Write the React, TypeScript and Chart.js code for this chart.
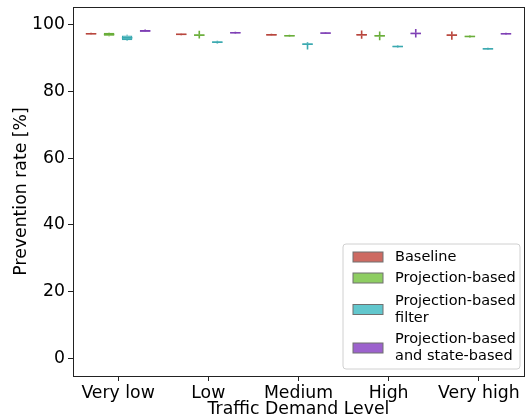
import React, { useEffect, useRef } from 'react';
import { Chart, registerables } from 'chart.js';

Chart.register(...registerables);

const categories = ['Very low', 'Low', 'Medium', 'High', 'Very high'];
const seriesLabels: (string | string[])[] = [
  'Baseline',
  'Projection-based',
  ['Projection-based', 'filter'],
  ['Projection-based', 'and state-based'],
];
// each entry: [min, q1, median, q3, max]
const baseline = [
  [96.9, 96.95, 97.1, 97.3, 97.4],
  [96.7, 96.8, 96.95, 97.1, 97.2],
  [96.5, 96.6, 96.8, 96.95, 97.1],
  [95.6, 96.6, 96.8, 97.0, 98.1],
  [95.3, 96.5, 96.7, 96.9, 97.8],
];
const projection = [
  [96.4, 96.5, 96.9, 97.4, 97.5],
  [95.7, 96.5, 96.7, 96.9, 98.0],
  [96.2, 96.35, 96.5, 96.65, 96.8],
  [95.2, 96.3, 96.5, 96.7, 97.8],
  [96.0, 96.15, 96.3, 96.45, 96.6],
];
const projectionFilter = [
  [95.0, 95.2, 95.9, 96.6, 96.8],
  [94.2, 94.4, 94.6, 94.8, 95.0],
  [92.4, 93.8, 94.0, 94.2, 94.6],
  [93.0, 93.15, 93.3, 93.45, 93.6],
  [92.3, 92.45, 92.6, 92.75, 92.9],
];
const projectionState = [
  [97.6, 97.7, 97.95, 98.2, 98.4],
  [97.1, 97.25, 97.4, 97.55, 97.7],
  [97.0, 97.15, 97.3, 97.45, 97.6],
  [96.0, 97.0, 97.2, 97.4, 98.5],
  [96.8, 96.95, 97.1, 97.25, 97.4],
];
const yTicks = [0, 20, 40, 60, 80, 100];

const allSeries = [baseline, projection, projectionFilter, projectionState];
const fillColors = ['#cd6a62', '#8ecd62', '#62c7cd', '#9c62cd'];
const lineColors = ['#b8463d', '#6aae3a', '#3aa9b0', '#7f40b5'];
const FONT = '"DejaVu Sans", sans-serif';

const boxPlugin = {
  id: 'boxParts',
  beforeDatasetsDraw(chart: any) {
    const ctx = chart.ctx;
    const y = chart.scales.y;
    ctx.save();
    allSeries.forEach((series, i) => {
      const meta = chart.getDatasetMeta(i);
      series.forEach((s, j) => {
        const el = meta.data[j];
        if (!el) return;
        ctx.strokeStyle = lineColors[i];
        ctx.lineWidth = 1.6;
        ctx.beginPath();
        ctx.moveTo(el.x, y.getPixelForValue(s[0]));
        ctx.lineTo(el.x, y.getPixelForValue(s[1]));
        ctx.moveTo(el.x, y.getPixelForValue(s[3]));
        ctx.lineTo(el.x, y.getPixelForValue(s[4]));
        ctx.stroke();
      });
    });
    ctx.restore();
  },
  afterDatasetsDraw(chart: any) {
    const ctx = chart.ctx;
    const y = chart.scales.y;
    ctx.save();
    allSeries.forEach((series, i) => {
      const meta = chart.getDatasetMeta(i);
      series.forEach((s, j) => {
        const el = meta.data[j];
        if (!el) return;
        ctx.strokeStyle = lineColors[i];
        ctx.lineWidth = 1.6;
        const py = y.getPixelForValue(s[2]);
        ctx.beginPath();
        ctx.moveTo(el.x - el.width / 2, py);
        ctx.lineTo(el.x + el.width / 2, py);
        ctx.stroke();
      });
    });
    ctx.restore();
  },
  afterDraw(chart: any) {
    const ctx = chart.ctx;
    const a = chart.chartArea;
    ctx.save();
    // frame
    ctx.strokeStyle = '#222';
    ctx.lineWidth = 1;
    ctx.strokeRect(Math.round(a.left) + 0.5, Math.round(a.top) + 0.5, Math.round(a.right - a.left), Math.round(a.bottom - a.top));
    // legend
    const lx = a.right - 181;
    const ly = a.bottom - 132;
    const lw = 177;
    const lh = 125;
    const r = 3;
    ctx.beginPath();
    ctx.moveTo(lx + r, ly);
    ctx.arcTo(lx + lw, ly, lx + lw, ly + lh, r);
    ctx.arcTo(lx + lw, ly + lh, lx, ly + lh, r);
    ctx.arcTo(lx, ly + lh, lx, ly, r);
    ctx.arcTo(lx, ly, lx + lw, ly, r);
    ctx.closePath();
    ctx.fillStyle = 'rgba(255,255,255,0.85)';
    ctx.fill();
    ctx.strokeStyle = '#d0d0d0';
    ctx.stroke();
    const centers = [13, 34, 65.5, 104];
    ctx.font = '14.5px ' + FONT;
    ctx.textBaseline = 'middle';
    ctx.textAlign = 'left';
    seriesLabels.forEach((lab, i) => {
      const cy = ly + centers[i];
      ctx.fillStyle = fillColors[i];
      ctx.fillRect(lx + 10, cy - 5, 30, 10);
      ctx.strokeStyle = '#707070';
      ctx.lineWidth = 1;
      ctx.strokeRect(lx + 10, cy - 5, 30, 10);
      ctx.fillStyle = '#000';
      const lines = Array.isArray(lab) ? lab : [lab];
      lines.forEach((t, k) => {
        const off = (k - (lines.length - 1) / 2) * 17;
        ctx.fillText(t, lx + 52, cy + off);
      });
    });
    ctx.restore();
  },
};

export default function App() {
  const ref = useRef<HTMLCanvasElement>(null);
  useEffect(() => {
    document.body.style.margin = '0';
    const canvas = ref.current;
    if (!canvas) return;
    const labelText = (l: string | string[]) => (Array.isArray(l) ? l.join(' ') : l);
    const chart = new Chart(canvas, {
      type: 'bar',
      data: {
        labels: categories,
        datasets: allSeries.map((series, i) => ({
          label: labelText(seriesLabels[i]),
          data: series.map((s) => [s[1], s[3]]),
          backgroundColor: fillColors[i],
          borderColor: lineColors[i],
          borderWidth: 1.2,
          borderSkipped: false,
          categoryPercentage: 0.8,
          barPercentage: 0.58,
        })) as any,
      },
      options: {
        responsive: false,
        animation: false,
        layout: { padding: { top: 7, right: 2, left: 0, bottom: 0 } },
        plugins: {
          legend: { display: false },
          tooltip: { enabled: false },
        },
        scales: {
          x: {
            type: 'category',
            offset: true,
            grid: { display: true, drawOnChartArea: false, offset: false, tickLength: 5, tickColor: '#222' },
            border: { display: false },
            ticks: { color: '#000', font: { family: FONT, size: 17.3 }, padding: 2, maxRotation: 0, autoSkip: false },
            title: {
              display: true,
              text: 'Traffic Demand Level',
              color: '#000',
              font: { family: FONT, size: 17.3, lineHeight: 1.2 },
              padding: { top: 0, bottom: 0 },
            },
            afterFit: (scale: any) => {
              scale.height = 44;
              scale.paddingLeft = 0;
              scale.paddingRight = 0;
            },
          },
          y: {
            type: 'linear',
            min: -5.1,
            max: 105.1,
            grid: { display: true, drawOnChartArea: false, tickLength: 5, tickColor: '#222' },
            border: { display: false },
            ticks: { color: '#000', font: { family: FONT, size: 17.3 }, padding: 3 },
            afterBuildTicks: (scale: any) => {
              scale.ticks = yTicks.map((v) => ({ value: v }));
            },
            title: {
              display: true,
              text: 'Prevention rate [%]',
              color: '#000',
              font: { family: FONT, size: 17.3, lineHeight: 1.2 },
              padding: { top: 11, bottom: 0 },
            },
            afterFit: (scale: any) => {
              scale.width = 73;
              scale.paddingTop = 0;
              scale.paddingBottom = 0;
            },
          },
        },
      },
      plugins: [boxPlugin],
    });
    return () => chart.destroy();
  }, []);
  return (
    <div style={{ width: 526, height: 420 }}>
      <canvas ref={ref} width={526} height={420} style={{ display: 'block' }} />
    </div>
  );
}
